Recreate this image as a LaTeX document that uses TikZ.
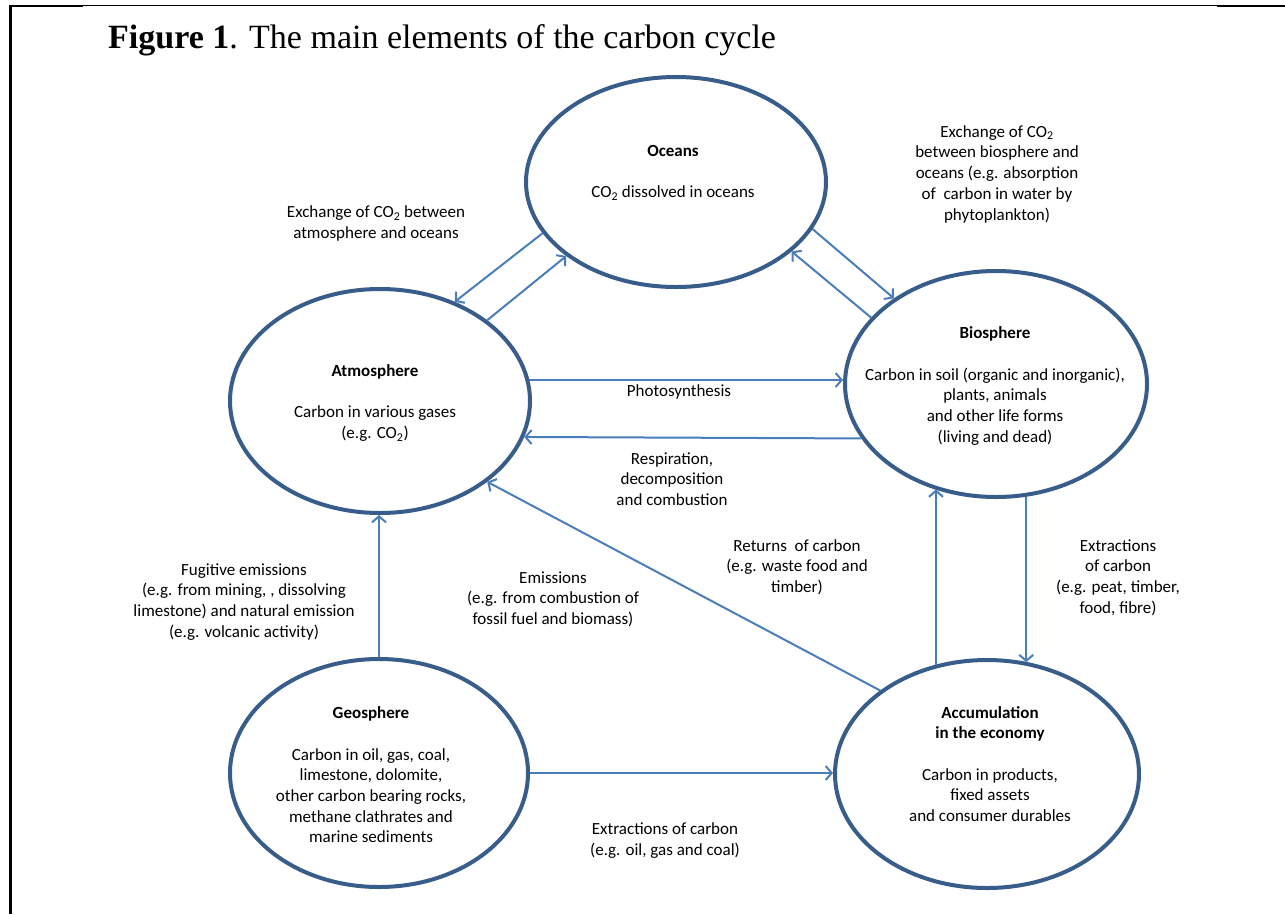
\documentclass[tikz,border=0pt]{standalone}
\usepackage{fontspec}
\setmainfont{Carlito}
\newfontfamily\titlefont{Liberation Serif}
\usetikzlibrary{shapes.geometric,arrows.meta}
\definecolor{ringblue}{HTML}{385D8A}
\definecolor{flowblue}{HTML}{4A7EBB}
\tikzset{
  pool/.style={ellipse, draw=ringblue, line width=4pt, inner sep=0pt},
  flow/.style={draw=flowblue, line width=2pt, -{Straight Barb[length=6pt,width=14pt]}},
  txt/.style={font=\fontsize{17}{20.7}\selectfont, align=center, inner sep=0pt,
    execute at begin node=\strut, execute at end node=\strut},
  frame/.style={draw=black, line cap=butt},
}
\newcommand{\cotwo}{CO\textsubscript{2}}
\begin{document}
\begin{tikzpicture}[x=1pt,y=-1pt]
\useasboundingbox (0,0) rectangle (1285,914);
\fill[white] (0,0) rectangle (1285,914);

% page frame
\draw[frame, line width=2.6pt] (10.7,5) -- (10.7,914);
\draw[frame, line width=1.2pt] (10,5.3) -- (1285,5.3);
\draw[frame, line width=2.2pt] (9.4,5.9) -- (83,5.9);
\draw[frame, line width=2.7pt] (1217,6) -- (1285,6);

% title
\node[anchor=base west, inner sep=0pt, font=\titlefont\fontsize{34}{40}\selectfont] (title) at (108,48)
  {\textbf{Figure 1}. The main elements of the carbon cycle};

% carbon pools
\node[pool, minimum width=300pt, minimum height=210pt] (oce) at (676,182) {};
\node[pool, minimum width=300pt, minimum height=224pt] (atm) at (380,401) {};
\node[pool, minimum width=302pt, minimum height=226pt] (bio) at (996,384) {};
\node[pool, minimum width=298pt, minimum height=228pt] (geo) at (379,773) {};
\node[pool, minimum width=304pt, minimum height=228pt] (acc) at (987,774) {};

% pool contents
\node[txt] (toce) at (673,174.5) {\textbf{Oceans}\\[20.7pt]\cotwo{} dissolved in oceans};
\node[txt] (tatm) at (375,404.5) {\textbf{Atmosphere}\\[20.7pt]Carbon in various gases\\(e.g. \cotwo)};
\node[txt] (tbio) at (995,387.5) {\textbf{Biosphere}\\[20.7pt]Carbon in soil (organic and inorganic),\\plants, animals\\and other life forms\\(living and dead)};
\node[txt] (tgeo) at (371,778) {\textbf{Geosphere}\\[20.7pt]Carbon in oil, gas, coal,\\limestone, dolomite,\\other carbon bearing rocks,\\methane clathrates and\\marine sediments};
\node[txt] (tacc) at (990,767) {\textbf{Accumulation}\\\textbf{in the economy}\\[20.7pt]Carbon in products,\\fixed assets\\and consumer durables};

% flows
\draw[flow] (oce.201) -- (atm.53);
\draw[flow] (atm.37) -- (oce.214);
\draw[flow] (oce.341) -- (bio.140);
\draw[flow] (bio.152) -- (oce.329);
\draw[flow] (atm.8) -- (atm.8 -| bio.west);
\draw[flow] (bio.202) -- (atm.346);
\draw[flow] (acc.142) -- (atm.323);
\draw[flow] (geo.north) -- (geo.north |- atm.south);
\draw[flow] (geo.east) -- (geo.east -| acc.west);
\draw[flow] (acc.115) -- (acc.115 |- bio.240);
\draw[flow] (bio.285) -- (bio.285 |- acc.70);

% flow labels
\node[txt] (lao) at (376,225) {Exchange of \cotwo{} between\\atmosphere and oceans};
\node[txt] (lbo) at (997,175.8) {Exchange of \cotwo\\between biosphere and\\oceans (e.g. absorption\\of\ \ carbon in water by\\phytoplankton)};
\node[txt] (lph) at (679,392.5) {Photosynthesis};
\node[txt] (lre) at (672,482) {Respiration,\\decomposition\\and combustion};
\node[txt] (lrt) at (797,569) {Returns\ \ of carbon\\(e.g. waste food and\\timber)};
\node[txt] (lex) at (1118,579.5) {Extractions\\of carbon\\(e.g. peat, timber,\\food, fibre)};
\node[txt] (lfu) at (244,603.5) {Fugitive emissions\\(e.g. from mining, , dissolving\\limestone) and natural emission\\(e.g. volcanic activity)};
\node[txt] (lem) at (553,601) {Emissions\\(e.g. from combustion of\\fossil fuel and biomass)};
\node[txt] (lxg) at (665,842.5) {Extractions of carbon\\(e.g. oil, gas and coal)};
\end{tikzpicture}
\end{document}
